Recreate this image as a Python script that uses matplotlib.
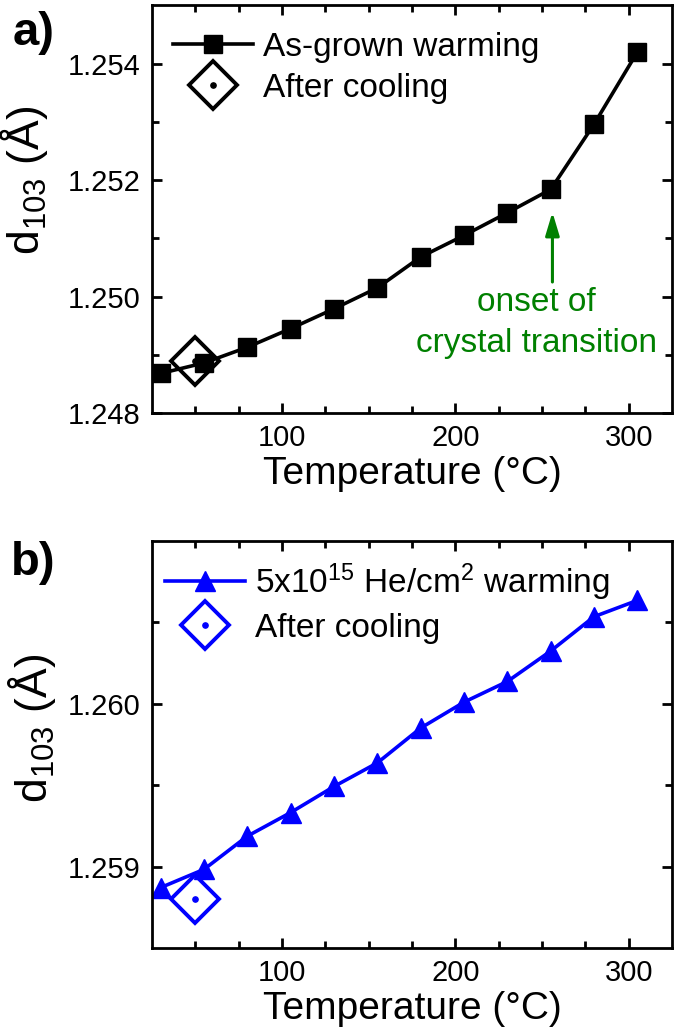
import numpy as np
import matplotlib
matplotlib.use("Agg")
import matplotlib.pyplot as plt
from matplotlib.legend_handler import HandlerTuple

plt.rcParams["font.family"] = ["Liberation Sans", "DejaVu Sans"]
plt.rcParams["mathtext.default"] = "regular"

# panel a: as-grown sample, warming
temp_a = [30, 55, 80, 105, 130, 155, 180, 205, 230, 255, 280, 305]
d103_a = [1.24868, 1.24886, 1.24913, 1.24945, 1.24979, 1.25015,
          1.25068, 1.25105, 1.25144, 1.25184, 1.25296, 1.25420]
cool_temp_a = [50]
cool_d103_a = [1.24890]

# panel b: 5x10^15 He/cm^2 implanted, warming
temp_b = [30, 55, 80, 105, 130, 155, 180, 205, 230, 255, 280, 305]
d103_b = [1.258871, 1.258983, 1.259187, 1.259332, 1.259492, 1.259637,
          1.259851, 1.260010, 1.260137, 1.260324, 1.260535, 1.260635]
cool_temp_b = [50]
cool_d103_b = [1.258803]

arrow_x = 256
arrow_from, arrow_to = 1.25025, 1.25145

fig = plt.figure(figsize=(6.75, 10.32), dpi=100)
ax_a = fig.add_axes([0.2252, 0.5998, 0.7704, 0.3949])
ax_b = fig.add_axes([0.2252, 0.0814, 0.7704, 0.3944])


def style_axes(ax, ylim, major, minor):
    ax.set_xlim(25, 325)
    ax.set_ylim(*ylim)
    ax.set_xticks([100, 200, 300])
    ax.set_xticks(np.arange(50, 325, 25), minor=True)
    ax.set_yticks(major)
    ax.set_yticks(minor, minor=True)
    ax.set_yticklabels([f"{v:.3f}" for v in major])
    for sp in ax.spines.values():
        sp.set_linewidth(2.0)
    ax.tick_params(which="both", direction="in", top=True, right=True,
                   width=2.0, labelsize=21)
    ax.tick_params(which="major", length=7)
    ax.tick_params(which="minor", length=5)
    ax.tick_params(axis="y", pad=8)
    ax.tick_params(axis="x", pad=8)
    ax.set_xlabel("Temperature (°C)", fontsize=28, labelpad=3)


# ---- panel a ----
la, = ax_a.plot(temp_a, d103_a, "-s", color="black", lw=2.6, ms=12.5)
da, = ax_a.plot(cool_temp_a, cool_d103_a, "D", ms=24, mfc="none",
                mec="black", mew=2.8)
dd, = ax_a.plot(cool_temp_a, cool_d103_a, "o", ms=3.8, color="black")
style_axes(ax_a, (1.248, 1.255), [1.248, 1.250, 1.252, 1.254],
           [1.249, 1.251, 1.253])
ax_a.set_ylabel("d$_{103}$ (Å)", fontsize=32)
ax_a.yaxis.set_label_coords(-0.196, 0.57)
ax_a.legend([la, (da, dd)], ["As-grown warming", "After cooling"],
            handler_map={tuple: HandlerTuple(ndivide=1)},
            loc="upper left", bbox_to_anchor=(0.04, 0.935), fontsize=24,
            frameon=False, borderpad=0, borderaxespad=0, handlelength=2.4,
            handletextpad=0.3, labelspacing=0.3)
ax_a.annotate("", xy=(arrow_x, arrow_to), xytext=(arrow_x, arrow_from),
              arrowprops=dict(arrowstyle="-|>,head_length=1.4,head_width=0.42",
                              color="green", lw=2.2, shrinkA=0, shrinkB=0))
ax_a.text(247, 1.24990, "onset of", color="green", fontsize=24,
          ha="center", va="center")
ax_a.text(247, 1.24919, "crystal transition", color="green", fontsize=24,
          ha="center", va="center")

# ---- panel b ----
lb, = ax_b.plot(temp_b, d103_b, "-^", color="blue", lw=2.6, ms=14)
db, = ax_b.plot(cool_temp_b, cool_d103_b, "D", ms=24, mfc="none",
                mec="blue", mew=2.8)
bd, = ax_b.plot(cool_temp_b, cool_d103_b, "o", ms=3.8, color="blue")
style_axes(ax_b, (1.2585, 1.261), [1.259, 1.260], [1.2595, 1.2605])
ax_b.set_ylabel("d$_{103}$ (Å)", fontsize=32)
ax_b.yaxis.set_label_coords(-0.18, 0.54)
ax_b.legend([lb, (db, bd)], ["5x10$^{15}$ He/cm$^{2}$ warming", "After cooling"],
            handler_map={tuple: HandlerTuple(ndivide=1)},
            loc="upper left", bbox_to_anchor=(0.025, 0.95), fontsize=24,
            frameon=False, borderpad=0, borderaxespad=0, handlelength=2.4,
            handletextpad=0.3, labelspacing=0.3)

fig.text(0.05, 0.968, "a)", fontsize=34, fontweight="bold", ha="center", va="center")
fig.text(0.05, 0.454, "b)", fontsize=34, fontweight="bold", ha="center", va="center")

fig.savefig("out.png", dpi=100)
